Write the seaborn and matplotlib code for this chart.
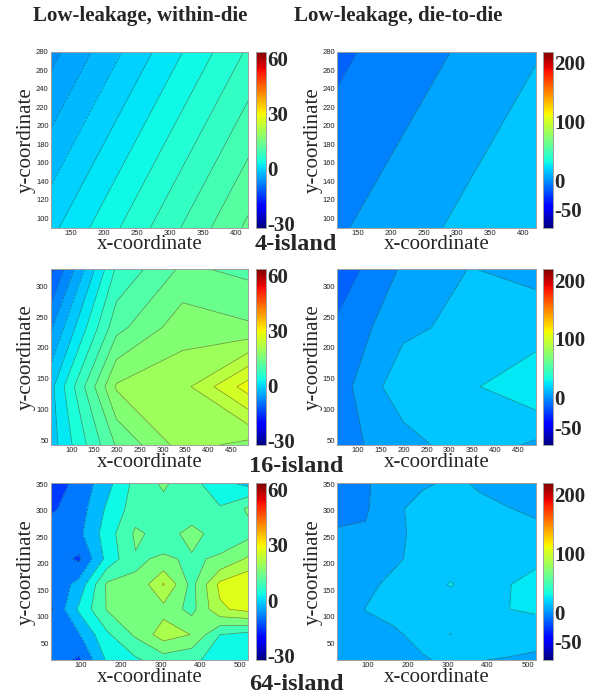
import numpy as np
import matplotlib
matplotlib.use("Agg")
import matplotlib.pyplot as plt
import matplotlib.colors as mcolors
import matplotlib.cm as cm
from matplotlib.ticker import MultipleLocator
import seaborn as sns

# island centres and values (rows go bottom -> top)
x_4 = [119, 418]
y_4 = [90, 280]
within_4 = [[-0.56, 12.44],
            [-6.7, 6.3]]
d2d_4 = [[-1.36, 20.0],
         [-12.2, 9.15]]

x_16 = [55, 199, 344, 488]
y_16 = [42, 137, 233, 328]
within_16 = [[-1.5, 12.3, 19.3, 17.0],
             [-1.0, 18.4, 19.9, 28.5],
             [-6.5, 11.0, 16.8, 15.5],
             [-13.0, 6.5, 12.6, 11.2]]
d2d_16 = [[-3.8, 5.5, 16.2, 8.2],
          [-5.0, 16.8, 18.5, 27.9],
          [-8.3, 7.5, 13.4, 14.5],
          [-16.3, 1.5, 10.3, 7.6]]

x_64 = [24, 95, 166, 237, 307, 378, 449, 520]
y_64 = [18, 66, 114, 161, 209, 257, 304, 352]
within_64 = [[-9, -13, 1, 5, 9, 7, 4, 3],
             [-8, -6.5, 5, 13, 21, 17.8, 6, 4],
             [-13, 1, 12.5, 15, 16, 10, 23, 26],
             [-11, -4, 13, 12.5, 24.5, 10, 25.5, 29.5],
             [-9, -13, 2, 11.5, 12.5, 11.5, 12.5, 19],
             [-9, -7.5, 3, 13, 10, 13.5, 10, 10],
             [-13, -9, 1, 9, 10, 9, 6.5, 13],
             [-15, -10.4, -2, 8, 13, 8, 2, -2]]
d2d_64 = [[3, 4, 6, 9, 12, 10.2, 9.5, 7],
          [2, 6, 8.5, 13, 20.2, 15, 14, 16],
          [3, 10.3, 13, 15, 16, 17, 19.9, 21],
          [3, 7, 13, 16, 20.5, 17, 19.5, 23],
          [2, 4, 8, 14, 16, 16, 16, 18],
          [1, 1, 6, 15, 16, 15, 14, 13],
          [-3, -1, 7, 15, 15, 12, 10.5, 8],
          [-5, -1, 4.5, 8, 12, 9, 5, 6]]

levels_within_4 = [-8, -6, -4, -2, 0, 2, 4, 6, 8, 10, 12, 14]
levels_within_16 = [-15, -12, -9, -6, -3, 0, 3, 6, 9, 12, 15, 18, 21, 24, 27, 30]
levels_within_64 = [-18, -12, -6, 0, 6, 12, 18, 24, 30]
levels_d2d = [-20, -10, 0, 10, 20, 30]

within_range = (-32.5, 63.5)
within_ticks = [-30, 0, 30, 60]
d2d_range = (-80.5, 218.5)
d2d_ticks = [-50, 0, 100, 200]

col_titles = ["Low-leakage, within-die", "Low-leakage, die-to-die"]
row_titles = ["4-island", "16-island", "64-island"]

sns.set_style("white")
plt.rcParams['font.family'] = ['Liberation Serif', 'DejaVu Serif']
jet = matplotlib.colormaps['jet']

W, H = 600, 698
fig = plt.figure(figsize=(W / 100, H / 100), dpi=100)


def box(l, t, r, b):
    return [l / W, 1 - b / H, (r - l) / W, (b - t) / H]


rows = [
    dict(x=x_4, y=y_4, z=[within_4, d2d_4], lev=[levels_within_4, levels_d2d],
         xt=list(range(150, 401, 50)), yt=list(range(100, 281, 20)), top=51.7, bot=227.7),
    dict(x=x_16, y=y_16, z=[within_16, d2d_16], lev=[levels_within_16, levels_d2d],
         xt=list(range(100, 451, 50)), yt=list(range(50, 301, 50)), top=269.3, bot=445),
    dict(x=x_64, y=y_64, z=[within_64, d2d_64], lev=[levels_within_64, levels_d2d],
         xt=list(range(100, 501, 100)), yt=list(range(50, 351, 50)), top=483.3, bot=660),
]
col_x = [(50.7, 248.3), (337.2, 535.5)]
cbar_x = [(256, 266), (543, 553)]
ranges = [within_range, d2d_range]
cticks = [within_ticks, d2d_ticks]

for ri, row in enumerate(rows):
    X, Y = np.meshgrid(row['x'], row['y'])
    for ci in range(2):
        norm = mcolors.Normalize(*ranges[ci])
        ax = fig.add_axes(box(col_x[ci][0], row['top'], col_x[ci][1], row['bot']))
        Z = np.array(row['z'][ci])
        ax.contourf(X, Y, Z, levels=row['lev'][ci], cmap=jet, norm=norm)
        ax.contour(X, Y, Z, levels=row['lev'][ci], colors='#333333',
                   linewidths=0.5, alpha=0.55)
        ax.set_xlim(row['x'][0], row['x'][-1])
        ax.set_ylim(row['y'][0], row['y'][-1])
        ax.set_xticks(row['xt'])
        ax.set_yticks(row['yt'])
        ax.tick_params(labelsize=5.5, labelfontfamily='Liberation Sans',
                       labelcolor='#222222', direction='in', length=2,
                       color='#888888', top=True, right=True, pad=1.5)
        for s in ax.spines.values():
            s.set_color('#a0a0a0')
            s.set_linewidth(0.7)
        ax.set_xlabel('x-coordinate', fontsize=15, labelpad=-1)
        ax.set_ylabel('y-coordinate', fontsize=15, labelpad=0)

        cax = fig.add_axes(box(cbar_x[ci][0], row['top'], cbar_x[ci][1], row['bot']))
        sm = cm.ScalarMappable(norm=norm, cmap=jet)
        cb = fig.colorbar(sm, cax=cax, ticks=cticks[ci])
        cb.outline.set_edgecolor('#a0a0a0')
        cb.outline.set_linewidth(0.7)
        if ci == 0:
            cax.yaxis.set_minor_locator(MultipleLocator(10))
        cax.tick_params(which='both', direction='in', length=2, color='#888888', pad=1)
        cax.set_yticklabels([str(t) for t in cticks[ci]], fontsize=15, fontweight='bold')

fig.text(140, H - 16.5, col_titles[0], transform=None, ha='center', va='center',
         fontsize=15, fontweight='bold')
fig.text(398, H - 16.5, col_titles[1], transform=None, ha='center', va='center',
         fontsize=15, fontweight='bold')
for label, yc in zip(row_titles, [245, 466, 684]):
    fig.text(296, H - yc, label, transform=None, ha='center', va='center',
             fontsize=17.5, fontweight='bold')

fig.savefig('out.png', dpi=100)
